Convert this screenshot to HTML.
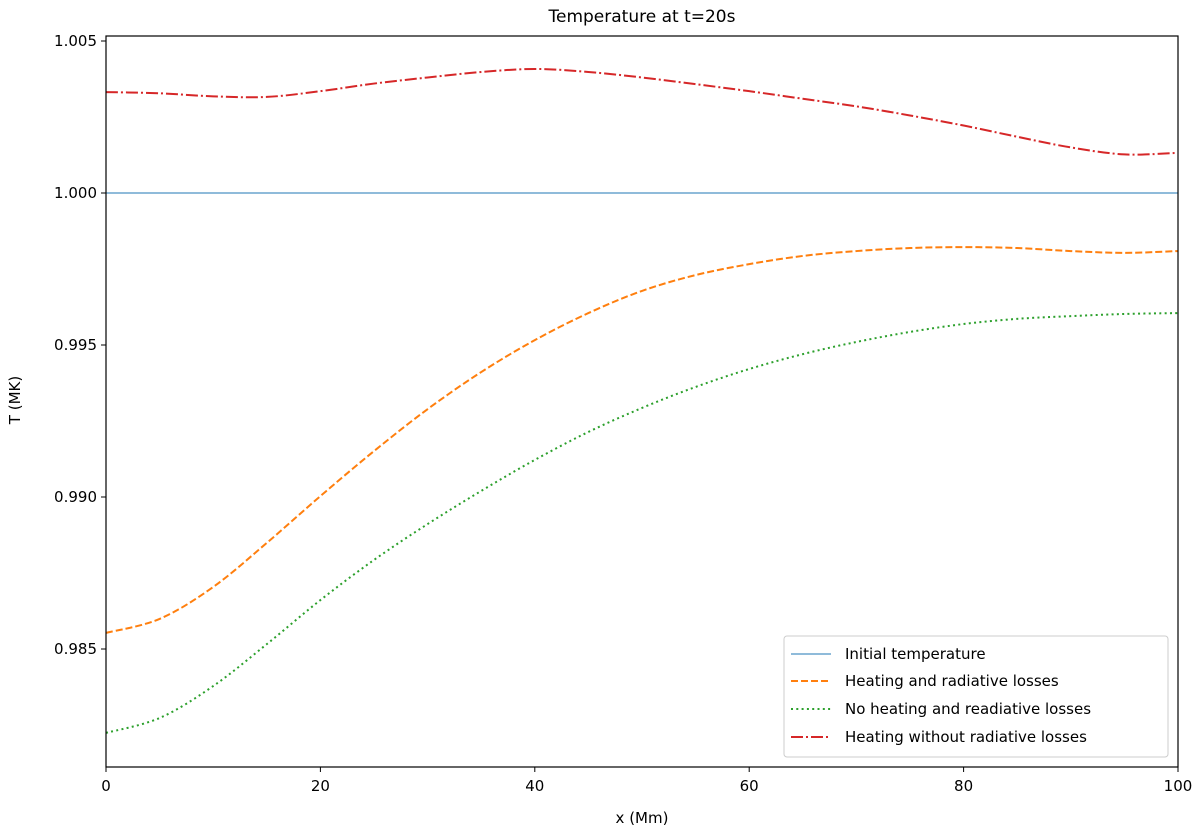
<!DOCTYPE html>
<html><head><meta charset="utf-8"><style>
html,body{margin:0;padding:0;background:#fff;}
svg{display:block;font-family:"DejaVu Sans","Liberation Sans",sans-serif;}
</style></head><body>
<svg id="chart" width="1200" height="837" viewBox="0 0 1200 837">
<text x="642" y="22" font-size="17" text-anchor="middle" fill="#000">Temperature at t=20s</text>
<g id="plot"></g>
<g id="axes"></g>
<text x="642" y="823" font-size="15" text-anchor="middle">x (Mm)</text>
<text transform="translate(20,400) rotate(-90)" font-size="15" text-anchor="middle">T (MK)</text>
<g>
<rect x="784" y="636" width="384" height="121" rx="3" fill="#fff" fill-opacity="0.8" stroke="#ccc"/>
<g><line x1="791" y1="654" x2="831" y2="654" stroke="#1f77b4" stroke-width="1"/><text x="845" y="659" font-size="15">Initial temperature</text></g>
<g><line x1="791" y1="681" x2="831" y2="681" stroke="#ff7f0e" stroke-width="2" stroke-dasharray="7,3"/><text x="845" y="686" font-size="15">Heating and radiative losses</text></g>
<g><line x1="791" y1="709" x2="831" y2="709" stroke="#2ca02c" stroke-width="2" stroke-dasharray="2,3.3"/><text x="845" y="714" font-size="15">No heating and readiative losses</text></g>
<g><line x1="791" y1="737" x2="831" y2="737" stroke="#d62728" stroke-width="2" stroke-dasharray="12,3,2,3"/><text x="845" y="742" font-size="15">Heating without radiative losses</text></g>
</g>
</svg>
<script>
const xs = [0,5,10,15,20,25,30,35,40,45,50,55,60,65,70,75,80,85,90,95,100];
const initialT = [1,1,1,1,1,1,1,1,1,1,1,1,1,1,1,1,1,1,1,1,1];
const heatingRad = [0.98553,0.98599,0.98704,0.98849,0.99003,0.99151,0.99289,0.99411,0.99516,0.99605,0.99678,0.9973,0.99766,0.99793,0.99809,0.99819,0.99822,0.99819,0.99809,0.99803,0.99809];
const noHeating = [0.98224,0.98273,0.98378,0.98516,0.98661,0.98793,0.98911,0.9902,0.99122,0.99214,0.99293,0.99362,0.99421,0.9947,0.9951,0.99543,0.99569,0.99586,0.99595,0.99602,0.99605];
const heatingNoRad = [1.00332,1.00328,1.00318,1.00316,1.00335,1.0036,1.0038,1.00398,1.00408,1.00398,1.0038,1.00358,1.00335,1.0031,1.00285,1.00255,1.00222,1.00185,1.0015,1.00127,1.00132];
const xTicks = [0,20,40,60,80,100];
const yTicks = [0.985,0.990,0.995,1.000,1.005];
const yTickLabels = ["0.985","0.990","0.995","1.000","1.005"];

const L=106,R=1178,T=36,B=767;
const X=v=>L+(v-0)/(100-0)*(R-L);
const Y=v=>193-(v-1)/0.005*152;
const NS="http://www.w3.org/2000/svg";
const plot=document.getElementById('plot'), axes=document.getElementById('axes');
function mk(tag,attrs,parent){const e=document.createElementNS(NS,tag);for(const k in attrs)e.setAttribute(k,attrs[k]);parent.appendChild(e);return e;}
function smooth(vals){
  const p=xs.map((x,i)=>[X(x),Y(vals[i])]);
  let d=`M${p[0][0]},${p[0][1]}`;
  for(let i=0;i<p.length-1;i++){
    const p0=p[Math.max(0,i-1)],p1=p[i],p2=p[i+1],p3=p[Math.min(p.length-1,i+2)];
    const c1=[p1[0]+(p2[0]-p0[0])/6,p1[1]+(p2[1]-p0[1])/6];
    const c2=[p2[0]-(p3[0]-p1[0])/6,p2[1]-(p3[1]-p1[1])/6];
    d+=`C${c1[0]},${c1[1]} ${c2[0]},${c2[1]} ${p2[0]},${p2[1]}`;
  }
  return d;
}
const series=[
 [initialT,'#1f77b4',1,'none','line-initial-temperature'],
 [heatingRad,'#ff7f0e',2,'7,3','line-heating-radiative'],
 [noHeating,'#2ca02c',2,'2,3.3','line-no-heating'],
 [heatingNoRad,'#d62728',2,'12,3,2,3','line-heating-no-radiative']
];
series.forEach(s=>{
  const e=mk('path',{d:smooth(s[0]),fill:'none',stroke:s[1],'stroke-width':s[2],'stroke-dasharray':s[3]},plot);
  
  
});
const frame=mk('rect',{x:L,y:T,width:R-L,height:B-T,fill:'none',stroke:'#000','stroke-width':1.2},axes);


xTicks.forEach(t=>{
  const g=mk('g',{},axes);
  
  
  mk('line',{x1:X(t),x2:X(t),y1:B,y2:B+5,stroke:'#000'},g);
  const tx=mk('text',{x:X(t),y:B+24,'font-size':15,'text-anchor':'middle'},g);tx.textContent=t;
});
yTicks.forEach((t,i)=>{
  const g=mk('g',{},axes);
  
  
  mk('line',{x1:L-5,x2:L,y1:Y(t),y2:Y(t),stroke:'#000'},g);
  const tx=mk('text',{x:L-9,y:Y(t)+5,'font-size':15,'text-anchor':'end'},g);tx.textContent=yTickLabels[i];
});
</script>
</body></html>
